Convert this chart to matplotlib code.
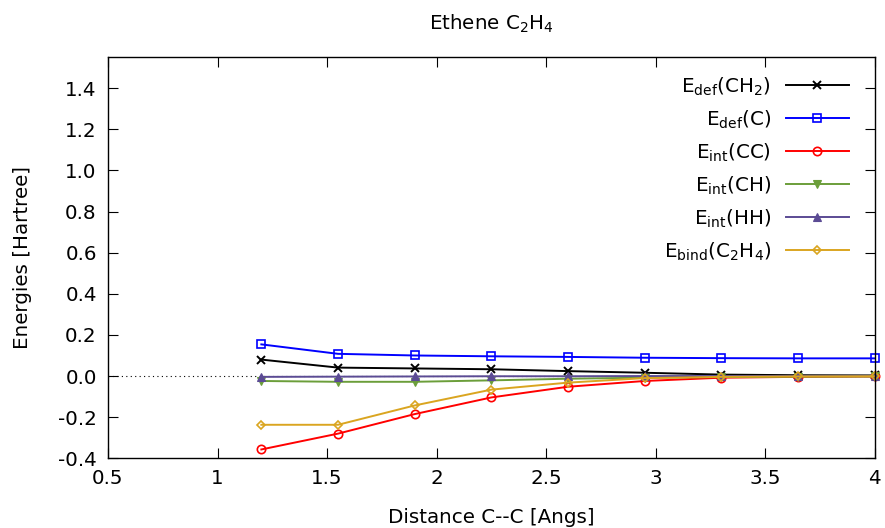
import matplotlib
matplotlib.use('Agg')
import matplotlib.pyplot as plt

# data
distance = [1.2, 1.55, 1.9, 2.25, 2.6, 2.95, 3.3, 3.65, 4.0]
e_def_ch2 = [0.080, 0.041, 0.037, 0.033, 0.024, 0.016, 0.007, 0.004, 0.003]
e_def_c = [0.154, 0.108, 0.100, 0.096, 0.093, 0.089, 0.087, 0.086, 0.086]
e_int_cc = [-0.357, -0.280, -0.185, -0.104, -0.052, -0.024, -0.008, -0.004, -0.002]
e_int_ch = [-0.024, -0.028, -0.028, -0.021, -0.013, -0.008, -0.005, -0.003, -0.002]
e_int_hh = [-0.004, -0.003, -0.002, -0.001, -0.001, 0.0, 0.0, 0.0, 0.0]
e_bind = [-0.237, -0.237, -0.143, -0.066, -0.032, -0.010, -0.004, -0.002, -0.001]

labels = [r'E$_{\mathrm{def}}$(CH$_2$)', r'E$_{\mathrm{def}}$(C)',
          r'E$_{\mathrm{int}}$(CC)', r'E$_{\mathrm{int}}$(CH)',
          r'E$_{\mathrm{int}}$(HH)', r'E$_{\mathrm{bind}}$(C$_2$H$_4$)']

plt.rcParams['font.family'] = ['DejaVu Sans']
plt.rcParams['mathtext.default'] = 'regular'
plt.rcParams['font.size'] = 14.3

styles = [
    dict(color='black', marker='x', ms=6, mew=1.4, mfc='none'),
    dict(color='#0000ff', marker='s', ms=5.8, mew=1.2, mfc='none'),
    dict(color='#ff0000', marker='o', ms=6, mew=1.2, mfc='none'),
    dict(color='#6b9e3a', marker='v', ms=5.5, mew=0.8),
    dict(color='#5b4b94', marker='^', ms=5.5, mew=0.8),
    dict(color='#daa520', marker='D', ms=4.2, mew=1.2, mfc='none'),
]

fig = plt.figure(figsize=(8.85, 5.28), dpi=100)
ax = fig.add_axes([0.122, 0.132, 0.8665, 0.7595])

ax.axhline(0, color='black', lw=0.8, ls=(0, (1, 3)), zorder=0)

series = [e_def_ch2, e_def_c, e_int_cc, e_int_ch, e_int_hh, e_bind]
for vals, lab, st in zip(series, labels, styles):
    ax.plot(distance, vals, label=lab, lw=1.4, clip_on=False, **st)

ax.set_xlim(0.5, 4.0)
ax.set_ylim(-0.4, 1.55)
ax.set_xticks([0.5, 1, 1.5, 2, 2.5, 3, 3.5, 4])
ax.set_xticklabels(['0.5', '1', '1.5', '2', '2.5', '3', '3.5', '4'])
ax.set_yticks([-0.4, -0.2, 0.0, 0.2, 0.4, 0.6, 0.8, 1.0, 1.2, 1.4])
ax.set_yticklabels(['-0.4', '-0.2', '0.0', '0.2', '0.4', '0.6', '0.8', '1.0', '1.2', '1.4'])
ax.tick_params(direction='in', top=True, right=True, length=7, width=0.8, pad=8)
for s in ax.spines.values():
    s.set_linewidth(1.0)

ax.set_xlabel('Distance C--C [Angs]', labelpad=14)
ax.set_ylabel('Energies [Hartree]', labelpad=19)
ax.set_title(r'Ethene C$_2$H$_4$', pad=20, fontsize=14.3)

ax.legend(loc='upper right', bbox_to_anchor=(0.9815, 0.985), frameon=False,
          markerfirst=False, handlelength=3.15, handletextpad=0.75,
          labelspacing=0.54, borderaxespad=0.2)

plt.savefig('out.png', dpi=100)
